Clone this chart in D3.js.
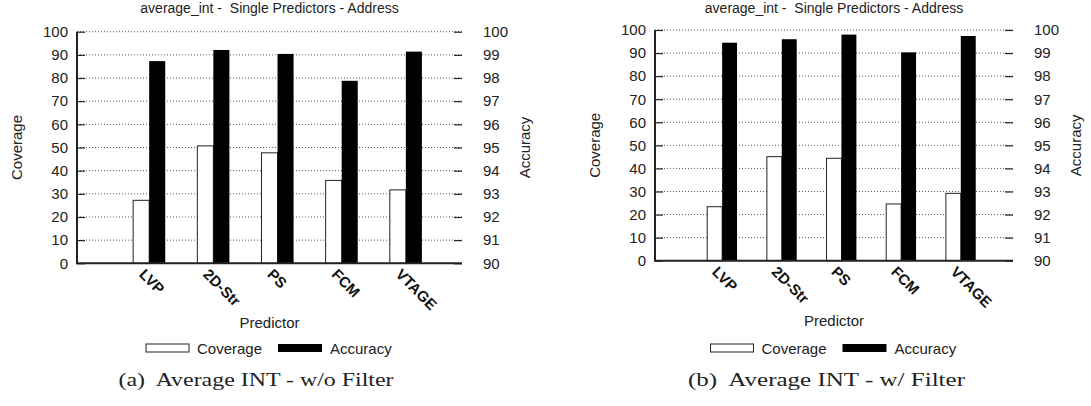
<!DOCTYPE html>
<html><head><meta charset="utf-8">
<script src="https://cdn.jsdelivr.net/npm/d3@7"></script>
<style>body{margin:0;background:#fff}svg{display:block}text{white-space:pre}</style>
</head><body>
<svg id="c" width="1091" height="406"></svg>
<script>
const categories = ["LVP", "2D-Str", "PS", "FCM", "VTAGE"];
const coverageNoFilter = [27.2, 50.7, 47.7, 35.8, 31.7];
const accuracyNoFilter = [98.73, 99.21, 99.04, 97.88, 99.14];
const coverageFilter = [23.4, 45.1, 44.4, 24.6, 29.2];
const accuracyFilter = [99.45, 99.6, 99.8, 99.03, 99.74];
const coverageTicks = [0, 10, 20, 30, 40, 50, 60, 70, 80, 90, 100];
const accuracyTicks = [90, 91, 92, 93, 94, 95, 96, 97, 98, 99, 100];
const chartTitle = "average_int -  Single Predictors - Address";
const captions = ["(a)  Average INT - w/o Filter", "(b)  Average INT - w/ Filter"];

const svg = d3.select("#c");
const SANS = "'Liberation Sans', Arial, Helvetica, sans-serif";

const panels = [
  {x0: 77, x1: 462, yT: 31.7, yB: 263.3, cov: coverageNoFilter, acc: accuracyNoFilter, cap: captions[0], capX: 256, capW: 275},
  {x0: 655, x1: 1013, yT: 30, yB: 260.7, cov: coverageFilter, acc: accuracyFilter, cap: captions[1], capX: 826.5, capW: 277}
];

panels.forEach(p => {
  const g = svg.append("g");
  const x = d3.scaleLinear().domain([-1.125, 4.875]).range([p.x0, p.x1]);
  const yC = d3.scaleLinear().domain([0, 100]).range([p.yB, p.yT]);
  const yA = d3.scaleLinear().domain([90, 100]).range([p.yB, p.yT]);
  const bw = 0.25;
  const cx = (p.x0 + p.x1) / 2;

  // grid
  g.append("g").selectAll("line").data(coverageTicks.filter(t => t > 0)).join("line")
    .attr("x1", p.x0).attr("x2", p.x1)
    .attr("y1", d => yC(d)).attr("y2", d => yC(d))
    .attr("stroke", "#444").attr("stroke-width", 0.9).attr("stroke-dasharray", "1,2");

  // bars
  g.append("g").selectAll("rect").data(p.cov).join("rect")
    .attr("x", (d, i) => x(i - bw))
    .attr("width", (d, i) => x(i) - x(i - bw))
    .attr("y", d => yC(d))
    .attr("height", d => yC(0) - yC(d))
    .attr("fill", "#fff").attr("stroke", "#222").attr("stroke-width", 1);
  g.append("g").selectAll("rect").data(p.acc).join("rect")
    .attr("x", (d, i) => x(i))
    .attr("width", (d, i) => x(i + bw) - x(i))
    .attr("y", d => yA(d))
    .attr("height", d => yA(90) - yA(d))
    .attr("fill", "#000");

  // left axis
  const la = d3.axisLeft(yC).tickValues(coverageTicks).tickSize(-8).tickPadding(9);
  const lg = g.append("g").attr("transform", `translate(${p.x0},0)`).call(la);
  lg.select(".domain").attr("stroke", "#222").attr("stroke-width", 2).attr("d", `M0,${p.yT}V${p.yB}`);
  lg.selectAll(".tick line").attr("stroke", "#222").attr("stroke-width", 1.2);
  lg.selectAll(".tick text").attr("font-family", SANS).attr("font-size", 15).attr("fill", "#222");

  // right axis
  const ra = d3.axisRight(yA).tickValues(accuracyTicks).tickSize(-8).tickPadding(21);
  const rg = g.append("g").attr("transform", `translate(${p.x1},0)`).call(ra);
  rg.select(".domain").remove();
  rg.selectAll(".tick line").attr("stroke", "#222").attr("stroke-width", 1.2);
  rg.selectAll(".tick text").attr("font-family", SANS).attr("font-size", 15).attr("fill", "#222");

  // bottom axis line
  g.append("line").attr("x1", p.x0 - 1).attr("x2", p.x1).attr("y1", p.yB).attr("y2", p.yB)
    .attr("stroke", "#222").attr("stroke-width", 2);

  // category labels
  g.append("g").selectAll("text").data(categories).join("text")
    .attr("transform", (d, i) => `translate(${x(i) - 11},${p.yB + 12}) rotate(45)`)
    .attr("font-family", SANS).attr("font-weight", "bold").attr("font-size", 15).attr("fill", "#111")
    .text(d => d);

  // title
  g.append("text").attr("x", cx).attr("y", 13).attr("text-anchor", "middle")
    .attr("font-family", SANS).attr("font-size", 14).attr("fill", "#222").text(chartTitle);

  // axis titles
  g.append("text").attr("transform", `translate(${p.x0 - 55},${(p.yT + p.yB) / 2}) rotate(-90)`)
    .attr("text-anchor", "middle").attr("font-family", SANS).attr("font-size", 15).attr("fill", "#222").text("Coverage");
  g.append("text").attr("transform", `translate(${p.x1 + 68},${(p.yT + p.yB) / 2}) rotate(-90)`)
    .attr("text-anchor", "middle").attr("font-family", SANS).attr("font-size", 15).attr("fill", "#222").text("Accuracy");
  g.append("text").attr("x", cx).attr("y", p.yB + 65).attr("text-anchor", "middle")
    .attr("font-family", SANS).attr("font-size", 15).attr("fill", "#222").text("Predictor");

  // legend
  const ly = 344;
  g.append("rect").attr("x", cx - 123.5).attr("y", ly).attr("width", 43).attr("height", 8)
    .attr("fill", "#fff").attr("stroke", "#222").attr("stroke-width", 1);
  g.append("text").attr("x", cx - 72.5).attr("y", ly + 10).attr("font-family", SANS).attr("font-size", 15).attr("fill", "#222").text("Coverage");
  g.append("rect").attr("x", cx + 8.5).attr("y", ly).attr("width", 44).attr("height", 8).attr("fill", "#000");
  g.append("text").attr("x", cx + 60.5).attr("y", ly + 10).attr("font-family", SANS).attr("font-size", 15).attr("fill", "#222").text("Accuracy");

  // caption
  g.append("text").attr("x", p.capX).attr("y", 386).attr("text-anchor", "middle")
    .attr("font-family", "'Liberation Serif', 'DejaVu Serif', serif").attr("font-size", 19)
    .attr("textLength", p.capW).attr("lengthAdjust", "spacingAndGlyphs")
    .attr("fill", "#222").text(p.cap);
});
</script>
</body></html>
